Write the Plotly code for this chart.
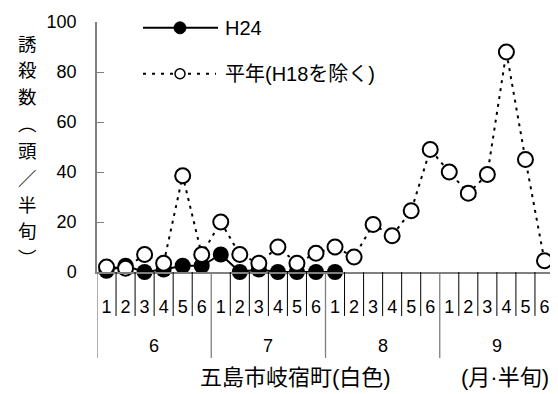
import plotly.graph_objects as go

MONTHS = ["6", "7", "8", "9"]
PERIODS = ["1", "2", "3", "4", "5", "6"]
H24 = [0.5, 2.5, 0, 1, 2.5, 2.5, 7, 0, 1, 0, 0, 0, 0]
HEINEN = [2, 1.5, 7, 3.5, 38.5, 7, 20, 7, 3.5, 10, 3.5, 7.5, 10, 6, 19, 14.5,
          24.5, 49, 40, 31.5, 39, 88, 45, 4.5]
Y_TICKS = [0, 20, 40, 60, 80, 100]
Y_TITLE = ["誘", "殺", "数", "︵", "頭", "／", "半", "旬", "︶"]
LEGEND = ["H24", "平年(H18を除く)"]
CAPTION_LEFT = "五島市岐宿町(白色)"
CAPTION_RIGHT = "(月·半旬)"

OFF = 8  # page body margin
W, H = 558 - OFF, 394 - OFF
L, R, T, B = 97 - OFF, 4, 16 - OFF, 122
PW, PH = W - L - R, H - T - B

def px(x):
    return (x - OFF - L) / PW

def py(y):
    return (H - B - (y - OFF)) / PH

labels = [p for m in MONTHS for p in PERIODS]
n = len(labels)
xs = list(range(n))

LAT = "Liberation Sans, Arial, Noto Sans CJK JP"
CJK = "Noto Sans CJK JP, Liberation Sans"
AX = "#808080"

fig = go.Figure()
fig.add_trace(go.Scatter(
    x=xs[:len(H24)], y=H24, mode="lines+markers", name=LEGEND[0],
    line=dict(color="black", width=2),
    marker=dict(symbol="circle", size=16, color="black"),
    cliponaxis=False, showlegend=False))
fig.add_trace(go.Scatter(
    x=xs, y=HEINEN, mode="lines+markers", name=LEGEND[1],
    line=dict(color="black", width=2, dash="3px,5px"),
    marker=dict(symbol="circle", size=15, color="white",
                line=dict(color="black", width=2)),
    cliponaxis=False, showlegend=False))

shapes = []
for i in range(n + 1):
    month_edge = (i % len(PERIODS) == 0)
    y1 = py(360) if month_edge else py(317)
    shapes.append(dict(type="line", xref="x", yref="paper",
                       x0=i - 0.5, x1=i - 0.5, y0=0, y1=y1,
                       line=dict(color=AX if month_edge else "black",
                                 width=1.3 if month_edge else 1)))

shapes.append(dict(type="line", xref="paper", yref="paper",
                   x0=px(143), x1=px(218), y0=py(22), y1=py(22),
                   line=dict(color="black", width=2)))
shapes.append(dict(type="circle", xref="paper", yref="paper",
                   xsizemode="pixel", ysizemode="pixel",
                   xanchor=px(180), yanchor=py(22),
                   x0=-6, x1=6, y0=-6, y1=6,
                   fillcolor="black", line=dict(color="black", width=1)))
shapes.append(dict(type="line", xref="paper", yref="paper",
                   x0=px(143), x1=px(216), y0=py(69), y1=py(69),
                   line=dict(color="black", width=2, dash="3px,6px")))
shapes.append(dict(type="circle", xref="paper", yref="paper",
                   xsizemode="pixel", ysizemode="pixel",
                   xanchor=px(180), yanchor=py(69),
                   x0=-5, x1=5, y0=-5, y1=5,
                   fillcolor="white", line=dict(color="black", width=1.5)))

annotations = []
annotations.append(dict(x=px(223), y=py(22), xref="paper", yref="paper",
                        text=LEGEND[0], showarrow=False, xanchor="left", yanchor="middle",
                        font=dict(family=LAT, size=20, color="black")))
annotations.append(dict(x=px(223), y=py(69), xref="paper", yref="paper",
                        text=LEGEND[1], showarrow=False, xanchor="left", yanchor="middle",
                        font=dict(family=LAT, size=20, color="black")))
for k, m in enumerate(MONTHS):
    annotations.append(dict(x=k * len(PERIODS) + (len(PERIODS) - 1) / 2, y=py(348),
                            xref="x", yref="paper", text=m, showarrow=False,
                            xanchor="center", yanchor="middle",
                            font=dict(family=LAT, size=18, color="black")))
annotations.append(dict(x=px(295), y=py(380), xref="paper", yref="paper",
                        text=CAPTION_LEFT, showarrow=False, xanchor="center", yanchor="middle",
                        font=dict(family=LAT, size=22, color="black")))
annotations.append(dict(x=px(505), y=py(380), xref="paper", yref="paper",
                        text=CAPTION_RIGHT, showarrow=False, xanchor="center", yanchor="middle",
                        font=dict(family=LAT, size=22, color="black")))
for j, ch in enumerate(Y_TITLE):
    annotations.append(dict(x=px(27), y=py(37 + j * 27.5), xref="paper", yref="paper",
                            text=ch, showarrow=False, xanchor="center", yanchor="middle",
                            font=dict(family=CJK, size=18.5, color="black")))

fig.update_layout(
    width=W, height=H, margin=dict(l=L, r=R, t=T, b=B),
    paper_bgcolor="white", plot_bgcolor="white",
    shapes=shapes, annotations=annotations, showlegend=False,
    xaxis=dict(range=[-0.5, n - 0.5], tickmode="array", tickvals=xs, ticktext=labels,
               showgrid=False, zeroline=False, showline=True, linecolor=AX, linewidth=1.5,
               ticks="", ticklabelstandoff=18, ticklabeloverflow="allow",
               tickfont=dict(family=LAT, size=18, color="black")),
    yaxis=dict(range=[0, 100], tickmode="array", tickvals=Y_TICKS,
               showgrid=False, zeroline=False, showline=True, linecolor=AX, linewidth=1.5,
               ticks="inside", ticklen=7, tickcolor=AX, tickwidth=1.3,
               ticklabelstandoff=15, ticklabeloverflow="allow",
               tickfont=dict(family=LAT, size=18, color="black")),
)

fig.write_html("out.html")
